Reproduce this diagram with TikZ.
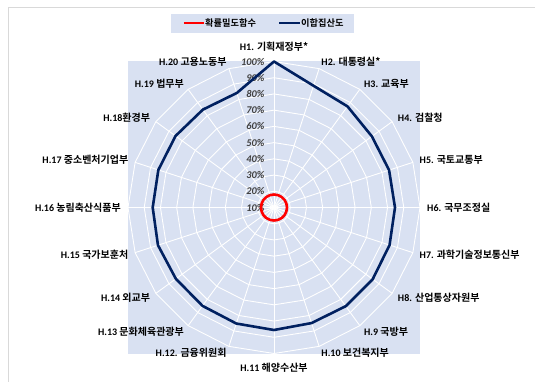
\documentclass[tikz,border=0pt]{standalone}
\usepackage{fontspec}
\setmainfont{Carlito}
\newfontfamily\kr{Noto Sans CJK KR}[BoldFont={Noto Sans CJK KR Bold}]
\usetikzlibrary{positioning}
\definecolor{plotbg}{HTML}{D9E1F2}
\definecolor{navy}{HTML}{002060}
\definecolor{axgray}{HTML}{404040}
\definecolor{framegray}{HTML}{D9D9D9}
\newcommand\hl[1]{{\normalfont\bfseries #1}}

\begin{document}
\begin{tikzpicture}[
  x=1pt, y=1pt,
  grid/.style={draw=white, line width=0.9pt},
  ser/.style={line width=2.6pt, line join=round},
  lab/.style={font=\kr\bfseries\fontsize{10}{12}\selectfont, inner sep=0pt},
  pct/.style={font=\bfseries\itshape\fontsize{10.3}{12}\selectfont, text=axgray, inner sep=0pt, anchor=east},
  leg/.style={font=\kr\bfseries\fontsize{9.2}{11}\selectfont, inner sep=0pt, anchor=west}
]
\useasboundingbox (-274,-173.5) rectangle (261,207.5);
% chart frame
\draw[framegray, line width=0.8pt] (-266,-200) -- (-266,200.5) -- (300,200.5);

% plot area, rings and spokes
\fill[plotbg] (-146,-146.5) rectangle (146,146.5);
\coordinate (o) at (0,0);
\foreach \i in {1,...,9}
  \draw[grid] (90:\i*146/9) \foreach \k in {1,...,19}{ -- (90-\k*18:\i*146/9)} -- cycle;
\foreach \k in {0,...,19}
  \draw[grid] (o) -- (90-\k*18:146);

% axis values
\foreach \i [evaluate=\i as \p using int(10+10*\i)] in {0,...,9}
  \node[pct] (p\p) at (-9.5,\i*146/9) {\p\%};

% category labels
\foreach \k/\anc/\d/\txt in {
  1/south/156/{\hl{H1.} 기획재정부*},
  2/west/153/{\hl{H2.} 대통령실*},
  3/west/153/{\hl{H3.} 교육부},
  4/west/153/{\hl{H4.} 검찰청},
  5/west/153/{\hl{H5.} 국토교통부},
  6/west/153/{\hl{H6.} 국무조정실},
  7/west/153/{\hl{H7.} 과학기술정보통신부},
  8/west/153/{\hl{H8.} 산업통상자원부},
  9/west/153/{\hl{H.9} 국방부},
  10/west/153/{\hl{H.10} 보건복지부},
  11/north/155/{\hl{H.11} 해양수산부},
  12/east/153/{\hl{H.12.} 금융위원회},
  13/east/153/{\hl{H.13} 문화체육관광부},
  14/east/153/{\hl{H.14} 외교부},
  15/east/153/{\hl{H.15} 국가보훈처},
  16/east/153/{\hl{H.16} 농림축산식품부},
  17/east/153/{\hl{H.17} 중소벤처기업부},
  18/east/153/{\hl{H.18}환경부},
  19/east/153/{\hl{H.19} 법무부},
  20/east/153/{\hl{H.20} 고용노동부}}
  \node[lab, anchor=\anc] (h\k) at (108-\k*18:\d) {\txt};

% series
\draw[ser, red] (90:13) \foreach \k in {1,...,19}{ -- (90-\k*18:13)} -- cycle;
\foreach \r [count=\k from 0] in {146,128,125,121,121,121,121.5,122,122,121.5,122.5,122,121.6,121.3,122,121.3,121.6,121.7,121,120.4}
  \coordinate (v\k) at (90-\k*18:\r);
\draw[ser, navy] (v0) \foreach \k in {1,...,19}{ -- (v\k)} -- cycle;

% legend
\node[fill=plotbg, minimum width=183, minimum height=19, inner sep=0pt] (legend) at (-11.5,184) {};
\coordinate (lr1) at (-90,184.5);
\coordinate (lr2) at (-70,184.5);
\coordinate (lb1) at (5.3,184.5);
\coordinate (lb2) at (26,184.5);
\draw[ser, red] (lr1) -- (lr2);
\node[leg, right=1pt of lr2] (legpdf) {확률밀도함수};
\draw[ser, navy] (lb1) -- (lb2);
\node[leg, right=1pt of lb2] (legmix) {이합집산도};
\end{tikzpicture}
\end{document}
